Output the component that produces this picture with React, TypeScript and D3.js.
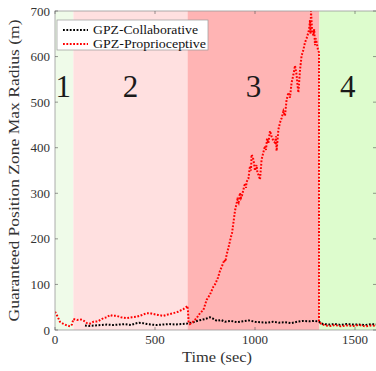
import React from "react"
import * as d3 from "d3"

const W = 376
const H = 371
const M = { top: 11, right: 0, bottom: 41, left: 55 }

const xTicks = [0, 500, 1000, 1500]
const yTicks = [0, 100, 200, 300, 400, 500, 600, 700]

// phases: start, end, colour, label
const phaseStart = [0, 92, 663, 1322]
const phaseEnd = [92, 663, 1322, 1605]
const phaseColor = ["#effbe9", "#ffe0e0", "#ffb4b4", "#ddfccd"]
const phaseLabel = ["1", "2", "3", "4"]

const collabT = [150, 170, 200, 230, 260, 290, 320, 350, 380, 400, 420, 440, 460, 480, 510, 540, 570, 600, 630, 660, 690, 720, 750, 775, 790, 810, 830, 850, 880, 910, 940, 970, 1000, 1030, 1060, 1090, 1120, 1150, 1180, 1210, 1240, 1270, 1300, 1320, 1340, 1370, 1400, 1430, 1460, 1490, 1520, 1550, 1580, 1605]
const collabV = [10, 9, 10, 11, 12, 11, 12, 13, 11, 14, 16, 15, 13, 12, 11, 12, 13, 12, 13, 14, 17, 21, 24, 28, 25, 20, 22, 18, 20, 17, 19, 21, 18, 17, 16, 18, 16, 17, 15, 18, 20, 19, 20, 18, 13, 12, 13, 11, 13, 12, 12, 11, 13, 12]

const propT = [0, 10, 25, 40, 55, 75, 85, 92, 110, 130, 145, 160, 175, 192, 215, 242, 260, 275, 290, 308, 330, 358, 385, 408, 435, 458, 475, 492, 515, 542, 565, 592, 615, 642, 655, 662, 665, 668, 675, 690, 708, 725, 742, 758, 775, 792, 800, 808, 815, 825, 835, 847, 852, 858, 867, 880, 885, 892, 900, 912, 918, 925, 930, 935, 942, 950, 955, 958, 967, 975, 980, 983, 990, 995, 1000, 1008, 1012, 1017, 1025, 1033, 1042, 1050, 1055, 1060, 1067, 1075, 1083, 1092, 1100, 1105, 1108, 1117, 1125, 1133, 1142, 1150, 1158, 1167, 1175, 1183, 1192, 1200, 1208, 1212, 1217, 1225, 1233, 1242, 1250, 1258, 1267, 1272, 1275, 1278, 1280, 1285, 1292, 1296, 1300, 1304, 1308, 1315, 1320, 1320, 1330, 1350, 1380, 1400, 1430, 1460, 1490, 1520, 1550, 1580, 1605]
const propV = [40, 32, 18, 14, 11, 8, 12, 24, 22, 23, 20, 15, 14, 18, 19, 26, 28, 33, 31, 31, 28, 26, 28, 29, 33, 37, 37, 35, 33, 31, 34, 37, 40, 46, 50, 53, 40, 18, 13, 18, 26, 37, 44, 66, 78, 95, 100, 108, 115, 130, 140, 154, 150, 165, 180, 205, 212, 235, 262, 286, 280, 301, 290, 295, 308, 322, 312, 325, 332, 360, 350, 385, 378, 365, 350, 362, 345, 341, 330, 374, 390, 404, 395, 420, 410, 437, 425, 415, 411, 425, 393, 440, 455, 465, 480, 470, 505, 521, 510, 543, 560, 580, 560, 540, 521, 570, 602, 615, 631, 640, 653, 665, 680, 650, 700, 660, 646, 660, 625, 640, 631, 615, 609, 20, 14, 10, 9, 11, 8, 10, 9, 11, 8, 10, 9]

const serif = "'Liberation Serif', 'DejaVu Serif', serif"

export default function App() {
  const x = d3.scaleLinear().domain([0, 1605]).range([M.left, W - M.right])
  const y = d3.scaleLinear().domain([0, 700]).range([H - M.bottom, M.top])
  const x0 = M.left
  const x1 = W - M.right
  const y0 = H - M.bottom
  const y1 = M.top

  const line = d3
    .line<[number, number]>()
    .x((d) => x(d[0]))
    .y((d) => y(d[1]))

  const collab = collabT.map((t, i) => [t, collabV[i]] as [number, number])
  const prop = propT.map((t, i) => [t, propV[i]] as [number, number])

  return (
    <svg width={W} height={H} style={{ position: "fixed", left: 0, top: 0, background: "#fff" }} fontFamily={serif}>
      <defs>
        <clipPath id="plot">
          <rect x={x0} y={y1} width={x1 - x0} height={y0 - y1} />
        </clipPath>
      </defs>
      {phaseStart.map((s, i) => (
        <rect key={i} x={x(s)} y={y1} width={x(phaseEnd[i]) - x(s)} height={y0 - y1} fill={phaseColor[i]} />
      ))}
      {phaseStart.map((s, i) => (
        <text key={i} x={(x(s) + x(phaseEnd[i])) / 2 + (i === 0 ? -1 : 0)} y={97} fontSize={31} textAnchor="middle" fill="#1a1a1a">
          {phaseLabel[i]}
        </text>
      ))}
      <g clipPath="url(#plot)" fill="none" strokeWidth={2}>
        <path d={line(collab) ?? ""} stroke="#000" strokeDasharray="1.8,1.6" />
        <path d={line(prop) ?? ""} stroke="#ff0000" strokeDasharray="1.8,1.6" />
      </g>
      {/* frame */}
      <rect x={x0} y={y1} width={x1 - x0 + 1} height={y0 - y1} fill="none" stroke="#9a9a9a" strokeWidth={0.8} />
      {xTicks.map((t) => (
        <g key={t}>
          <line x1={x(t)} x2={x(t)} y1={y0} y2={y0 - 3} stroke="#555" strokeWidth={0.6} />
          <line x1={x(t)} x2={x(t)} y1={y1} y2={y1 + 3} stroke="#555" strokeWidth={0.6} />
          <text x={x(t)} y={y0 + 14} fontSize={13} textAnchor="middle" fill="#333">
            {t}
          </text>
        </g>
      ))}
      {yTicks.map((t) => (
        <g key={t}>
          <line x1={x0} x2={x0 + 3} y1={y(t)} y2={y(t)} stroke="#555" strokeWidth={0.6} />
          <line x1={x1} x2={x1 - 3} y1={y(t)} y2={y(t)} stroke="#555" strokeWidth={0.6} />
          <text x={x0 - 5} y={y(t) + 4.5} fontSize={13} textAnchor="end" fill="#333">
            {t}
          </text>
        </g>
      ))}
      <text x={217} y={362} fontSize={14.5} textAnchor="middle" fill="#333" textLength={70} lengthAdjust="spacingAndGlyphs">
        Time (sec)
      </text>
      <text
        transform={`translate(19,${(y0 + y1) / 2}) rotate(-90)`}
        fontSize={14}
        textAnchor="middle"
        fill="#333"
        textLength={302}
        lengthAdjust="spacingAndGlyphs"
      >
        Guaranteed Position Zone Max Radius (m)
      </text>
      {/* legend */}
      <g>
        <rect x={57} y={20} width={151} height={30} fill="#fff" stroke="#999" strokeWidth={0.7} />
        <line x1={63} x2={88} y1={30} y2={30} stroke="#000" strokeWidth={2} strokeDasharray="1.8,1.6" />
        <line x1={63} x2={88} y1={44} y2={44} stroke="#ff0000" strokeWidth={2} strokeDasharray="1.8,1.6" />
        <text x={93} y={34} fontSize={13} fill="#111" textLength={105} lengthAdjust="spacingAndGlyphs">GPZ-Collaborative</text>
        <text x={93} y={48} fontSize={13} fill="#111" textLength={113} lengthAdjust="spacingAndGlyphs">GPZ-Proprioceptive</text>
      </g>
    </svg>
  )
}
